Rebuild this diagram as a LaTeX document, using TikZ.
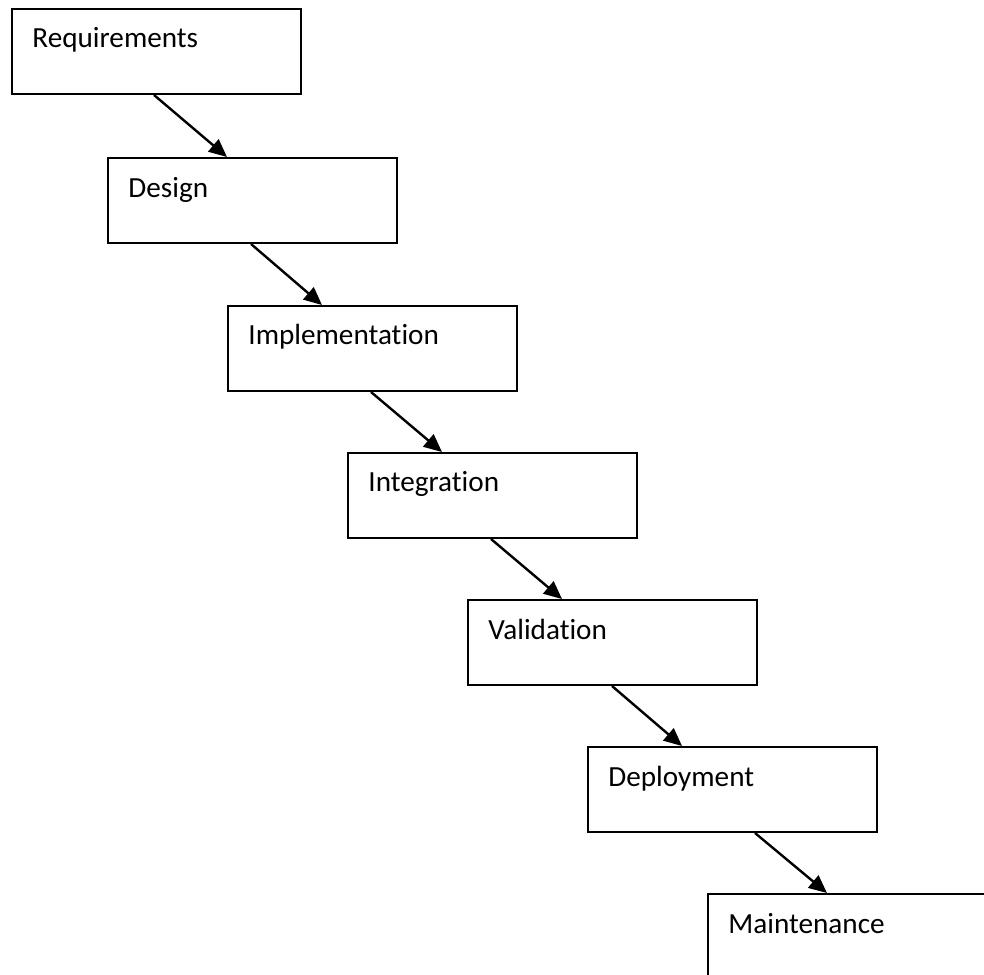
\documentclass[tikz,border=0pt]{standalone}
\usepackage{fontspec}
\setmainfont{Carlito}[RawFeature=-liga]
\usetikzlibrary{calc,arrows.meta}
\begin{document}
\begin{tikzpicture}[x=0.5pt,y=-0.5pt,
  box/.style={draw=black,line width=1pt,fill=white,rectangle,inner sep=0pt,
    minimum width=144.5pt,minimum height=42.5pt,anchor=north west},
  lbl/.style={anchor=base west,inner sep=0pt,font=\fontsize{14.6}{17}\selectfont},
  arr/.style={line width=1.2pt,-{Triangle[length=9pt,width=8pt]}}]
\useasboundingbox (0,0) rectangle (984,974);
\clip (0,0) rectangle (984,974);
\node[box] (req) at (11,8) {};
\node[box] (des) at (107,157) {};
\node[box] (imp) at (227,305) {};
\node[box] (int) at (347,452) {};
\node[box] (val) at (467,599) {};
\node[box] (dep) at (587,746) {};
\node[box,minimum width=160pt,minimum height=60pt] (mai) at (707,893) {};
\node[lbl] at ($(req.north west)+(21,40)$) {Requirements};
\node[lbl] at ($(des.north west)+(21,40)$) {Design};
\node[lbl] at ($(imp.north west)+(21,39)$) {Implementation};
\node[lbl] at ($(int.north west)+(21,39)$) {Integration};
\node[lbl] at ($(val.north west)+(21,40)$) {Validation};
\node[lbl] at ($(dep.north west)+(21,40)$) {Deployment};
\node[lbl] at ($(mai.north west)+(21,40)$) {Maintenance};
\draw[arr] ($(req.south west)+(143,0)$) -- ($(des.north west)+(120,0)$);
\draw[arr] ($(des.south west)+(144,0)$) -- ($(imp.north west)+(95,0)$);
\draw[arr] ($(imp.south west)+(144,0)$) -- ($(int.north west)+(95,0)$);
\draw[arr] ($(int.south west)+(144,0)$) -- ($(val.north west)+(95,0)$);
\draw[arr] ($(val.south west)+(145,0)$) -- ($(dep.north west)+(95,0)$);
\draw[arr] ($(dep.south west)+(168,0)$) -- ($(mai.north west)+(120,0)$);
\end{tikzpicture}
\end{document}
